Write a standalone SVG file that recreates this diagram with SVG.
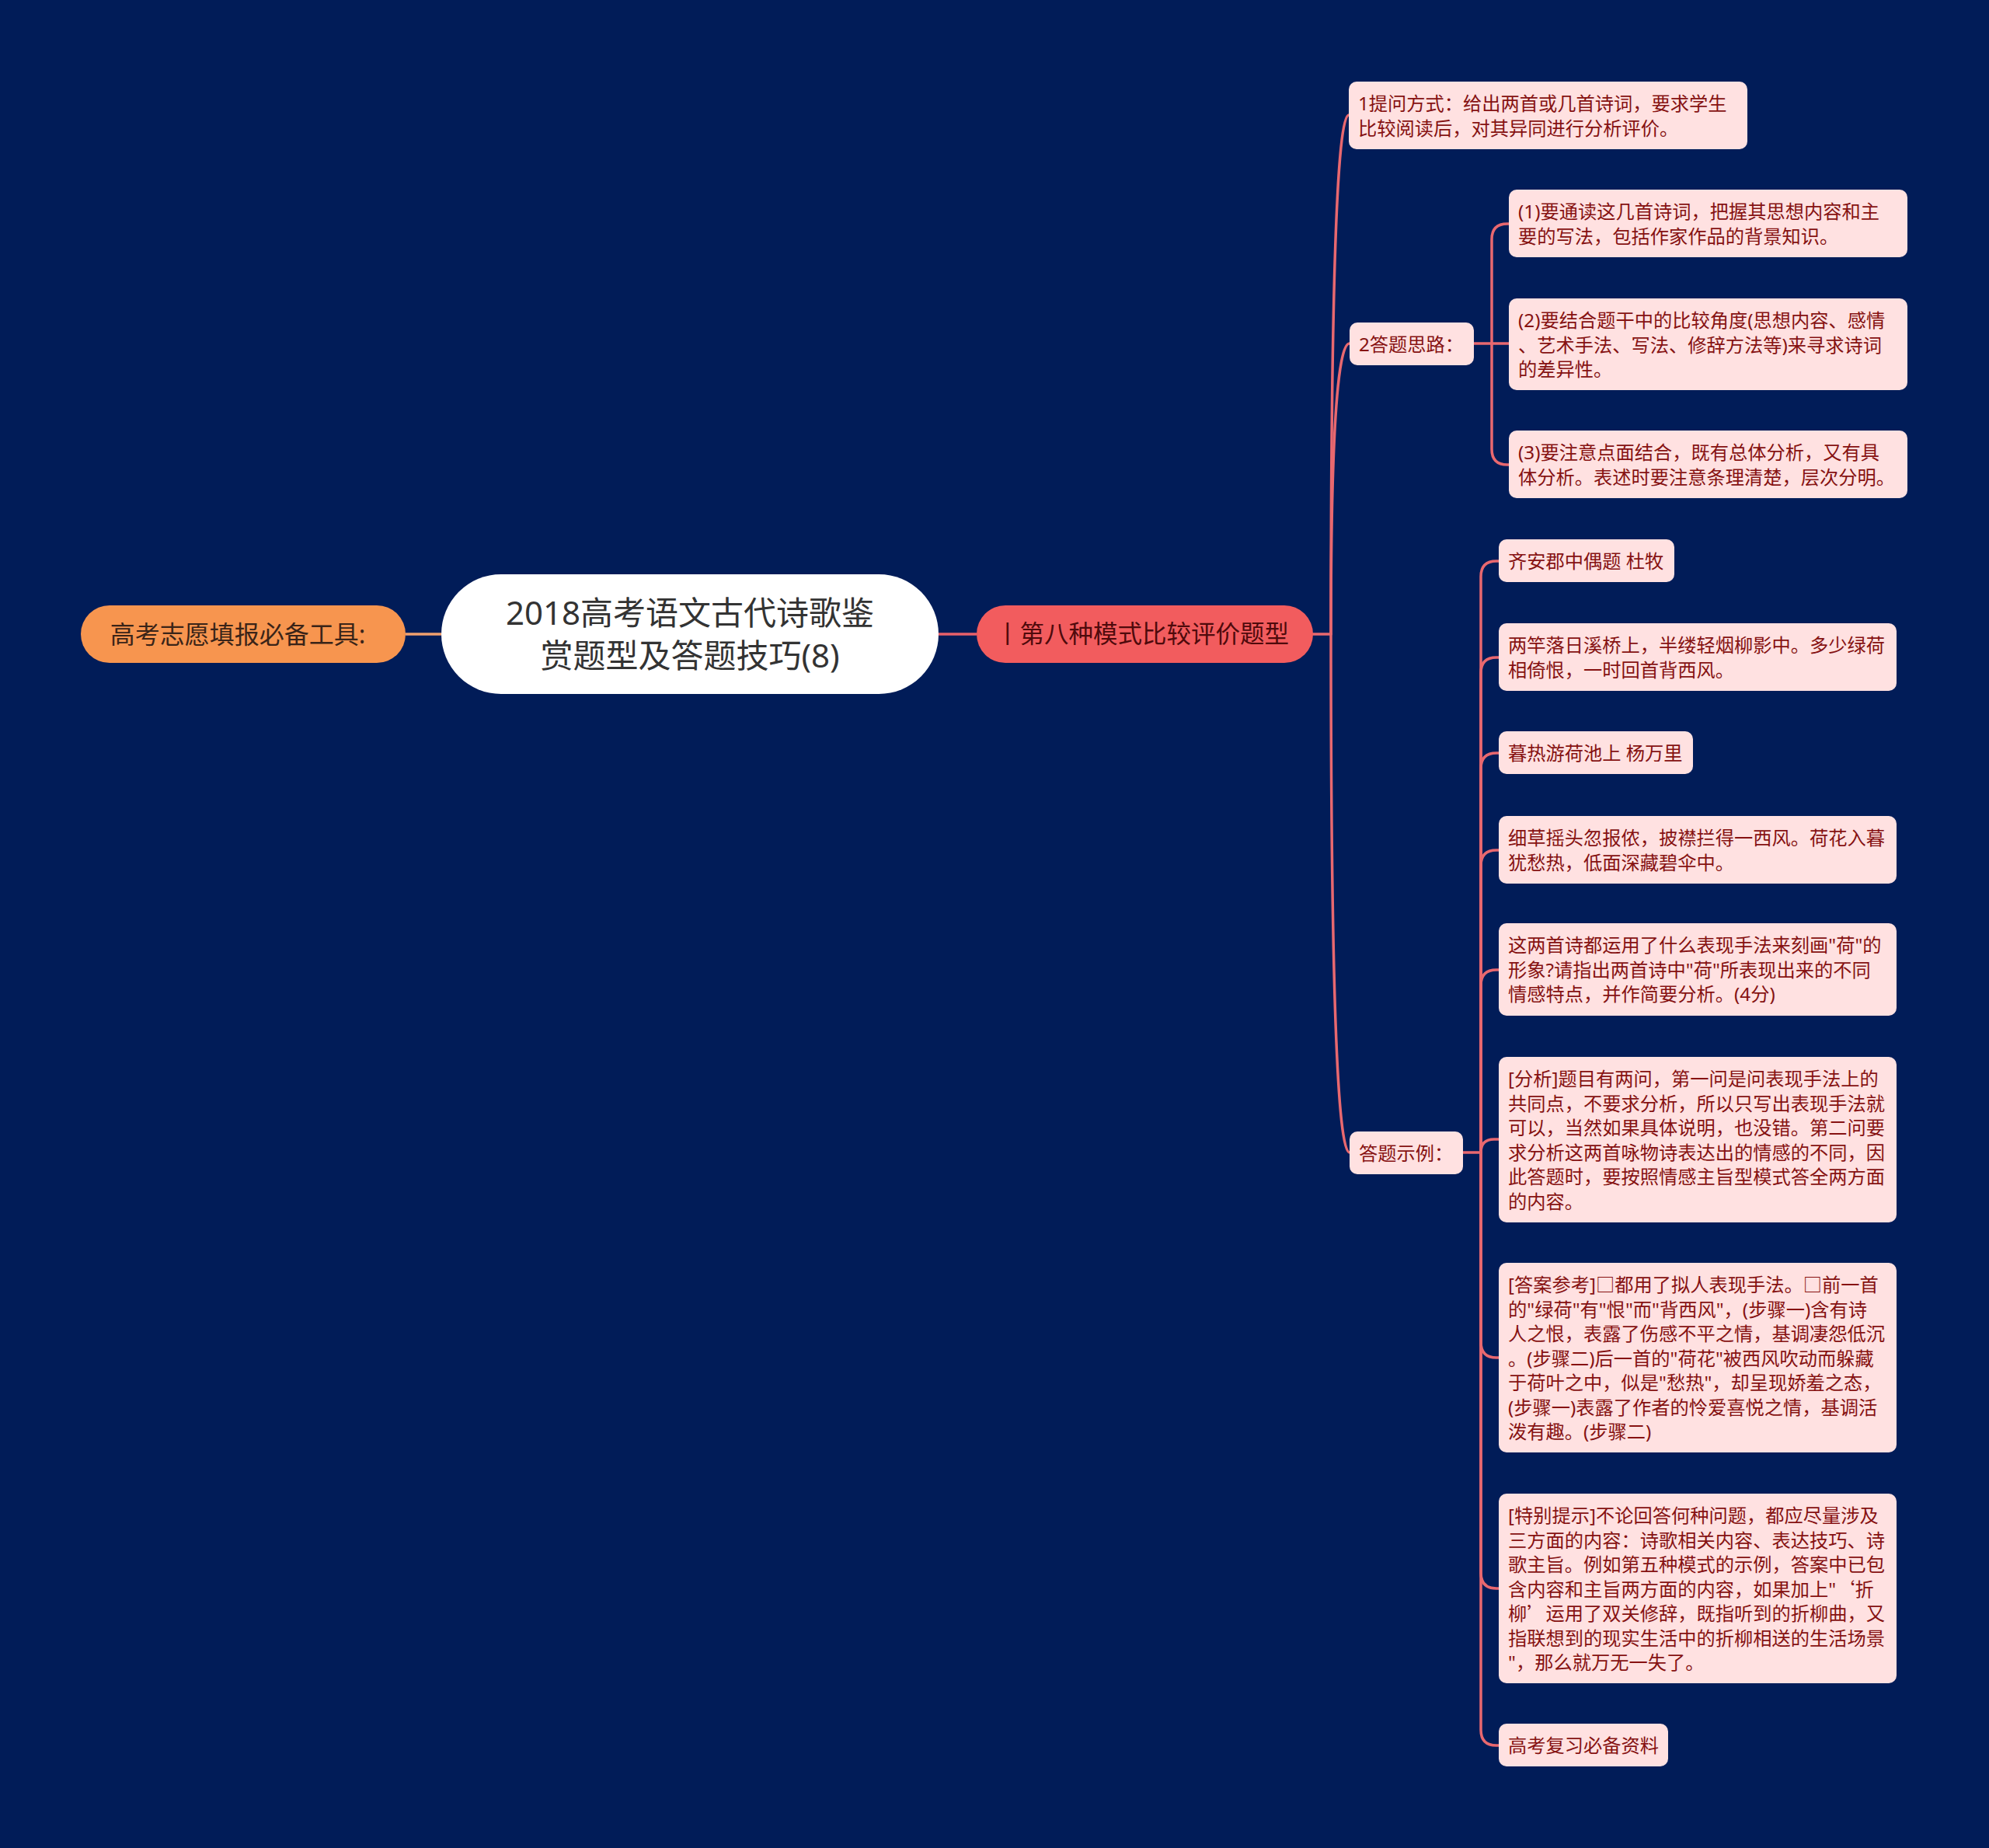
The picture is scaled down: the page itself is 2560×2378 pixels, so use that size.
<svg xmlns="http://www.w3.org/2000/svg" width="2560" height="2378" viewBox="0 0 2560 2378">
<style>
.bg{fill:#011c58}
.box{fill:#ffe1e1}
.t{font-family:"Noto Sans","Noto Sans CJK SC",sans-serif;font-size:24.25px;fill:#861212}
.cjk{font-family:"Noto Sans CJK SC",sans-serif}
.c{fill:none;stroke:#e8686f;stroke-width:3.5;stroke-linecap:round;stroke-linejoin:round}
</style>
<rect class="bg" x="0" y="0" width="2560" height="2378"/>
<g id="connectors">
<path d="M522 816 L568 816" fill="none" stroke="#f2a06e" stroke-width="3.5"/>
<path d="M1208 816 L1257 816" fill="none" stroke="#e8606a" stroke-width="3.5"/>
<path class="c" d="M1690 816 L1713 816 Q1713 148 1736 148"/>
<path class="c" d="M1713 816 Q1713 442 1737 442"/>
<path class="c" d="M1713 816 Q1713 1483 1737 1483"/>
<path class="c" d="M1897 442 L1942 442"/>
<path class="c" d="M1920 442 L1920 308 Q1920 288 1940 288 L1942 288"/>
<path class="c" d="M1920 442 L1920 578 Q1920 598 1940 598 L1942 598"/>
<path class="c" d="M1883 1483 L1906 1483"/>
<path class="c" d="M1906 1483 L1906 742 Q1906 722 1926 722 L1929 722"/>
<path class="c" d="M1906 1483 L1906 866 Q1906 846 1926 846 L1929 846"/>
<path class="c" d="M1906 1483 L1906 989 Q1906 969 1926 969 L1929 969"/>
<path class="c" d="M1906 1483 L1906 1114 Q1906 1094 1926 1094 L1929 1094"/>
<path class="c" d="M1906 1483 L1906 1268 Q1906 1248 1926 1248 L1929 1248"/>
<path class="c" d="M1906 1483 Q1906 1466 1923 1466 L1929 1466"/>
<path class="c" d="M1906 1483 L1906 1727 Q1906 1747 1926 1747 L1929 1747"/>
<path class="c" d="M1906 1483 L1906 2024 Q1906 2044 1926 2044 L1929 2044"/>
<path class="c" d="M1906 1483 L1906 2226 Q1906 2246 1926 2246 L1929 2246"/>
</g>
<g id="root">
<rect x="568" y="739" width="640" height="154" rx="77" fill="#ffffff"/>
<text x="888" y="804" text-anchor="middle" font-family="Noto Sans, Noto Sans CJK SC, sans-serif" font-size="42" fill="#333333">2018高考语文古代诗歌鉴</text>
<text x="888" y="859" text-anchor="middle" font-family="Noto Sans, Noto Sans CJK SC, sans-serif" font-size="42" fill="#333333">赏题型及答题技巧(8)</text>
</g>
<g id="left-node">
<rect x="104" y="779" width="418" height="74" rx="37" fill="#f7954f"/>
<text x="306" y="828" text-anchor="middle" font-family="Noto Sans, Noto Sans CJK SC, sans-serif" font-size="32" fill="#3a2418">高考志愿填报必备工具:</text>
</g>
<g id="main-node">
<rect x="1257" y="779" width="433" height="74" rx="37" fill="#f25c5e"/>
<text x="1470" y="827" text-anchor="middle" font-family="Noto Sans, Noto Sans CJK SC, sans-serif" font-size="31.5" fill="#4f0a0c">丨第八种模式比较评价题型</text>
</g>
<g id="n1">
<rect class="box" x="1736" y="105" width="513" height="87" rx="10"/>
<text class="t" x="1748" y="142"><tspan x="1748">1提问方式：给出两首或几首诗词，要求学生</tspan><tspan x="1748" dy="31.5">比较阅读后，对其异同进行分析评价。</tspan></text>
</g>
<g id="n2">
<rect class="box" x="1737" y="415" width="160" height="55" rx="10"/>
<text class="t" x="1749" y="452">2答题思路：</text>
</g>
<g id="n2-1">
<rect class="box" x="1942" y="244" width="513" height="87" rx="10"/>
<text class="t" x="1954" y="281"><tspan x="1954">(1)要通读这几首诗词，把握其思想内容和主</tspan><tspan x="1954" dy="31.5">要的写法，包括作家作品的背景知识。</tspan></text>
</g>
<g id="n2-2">
<rect class="box" x="1942" y="384" width="513" height="118" rx="10"/>
<text class="t" x="1954" y="421"><tspan x="1954">(2)要结合题干中的比较角度(思想内容、感情</tspan><tspan x="1954" dy="31.5">、艺术手法、写法、修辞方法等)来寻求诗词</tspan><tspan x="1954" dy="31.5">的差异性。</tspan></text>
</g>
<g id="n2-3">
<rect class="box" x="1942" y="554" width="513" height="87" rx="10"/>
<text class="t" x="1954" y="591"><tspan x="1954">(3)要注意点面结合，既有总体分析，又有具</tspan><tspan x="1954" dy="31.5">体分析。表述时要注意条理清楚，层次分明。</tspan></text>
</g>
<g id="n3">
<rect class="box" x="1737" y="1456" width="146" height="55" rx="10"/>
<text class="t" x="1749" y="1493">答题示例：</text>
</g>
<g id="n3-1">
<rect class="box" x="1929" y="694" width="226" height="55" rx="10"/>
<text class="t" x="1941" y="731">齐安郡中偶题 杜牧</text>
</g>
<g id="n3-2">
<rect class="box" x="1929" y="802" width="512" height="87" rx="10"/>
<text class="t" x="1941" y="839"><tspan x="1941">两竿落日溪桥上，半缕轻烟柳影中。多少绿荷</tspan><tspan x="1941" dy="31.5">相倚恨，一时回首背西风。</tspan></text>
</g>
<g id="n3-3">
<rect class="box" x="1929" y="941" width="250" height="55" rx="10"/>
<text class="t" x="1941" y="978">暮热游荷池上 杨万里</text>
</g>
<g id="n3-4">
<rect class="box" x="1929" y="1050" width="512" height="87" rx="10"/>
<text class="t" x="1941" y="1087"><tspan x="1941">细草摇头忽报侬，披襟拦得一西风。荷花入暮</tspan><tspan x="1941" dy="31.5">犹愁热，低面深藏碧伞中。</tspan></text>
</g>
<g id="n3-5">
<rect class="box" x="1929" y="1188" width="512" height="119" rx="10"/>
<text class="t" x="1941" y="1225"><tspan x="1941">这两首诗都运用了什么表现手法来刻画"荷"的</tspan><tspan x="1941" dy="31.5">形象?请指出两首诗中"荷"所表现出来的不同</tspan><tspan x="1941" dy="31.5">情感特点，并作简要分析。(4分)</tspan></text>
</g>
<g id="n3-6">
<rect class="box" x="1929" y="1360" width="512" height="213" rx="10"/>
<text class="t" x="1941" y="1397"><tspan x="1941">[分析]题目有两问，第一问是问表现手法上的</tspan><tspan x="1941" dy="31.5">共同点，不要求分析，所以只写出表现手法就</tspan><tspan x="1941" dy="31.5">可以，当然如果具体说明，也没错。第二问要</tspan><tspan x="1941" dy="31.5">求分析这两首咏物诗表达出的情感的不同，因</tspan><tspan x="1941" dy="31.5">此答题时，要按照情感主旨型模式答全两方面</tspan><tspan x="1941" dy="31.5">的内容。</tspan></text>
</g>
<g id="n3-7">
<rect class="box" x="1929" y="1625" width="512" height="244" rx="10"/>
<text class="t" x="1941" y="1662"><tspan x="1941">[答案参考]□都用了拟人表现手法。□前一首</tspan><tspan x="1941" dy="31.5">的"绿荷"有"恨"而"背西风"，(步骤一)含有诗</tspan><tspan x="1941" dy="31.5">人之恨，表露了伤感不平之情，基调凄怨低沉</tspan><tspan x="1941" dy="31.5">。(步骤二)后一首的"荷花"被西风吹动而躲藏</tspan><tspan x="1941" dy="31.5">于荷叶之中，似是"愁热"，却呈现娇羞之态，</tspan><tspan x="1941" dy="31.5">(步骤一)表露了作者的怜爱喜悦之情，基调活</tspan><tspan x="1941" dy="31.5">泼有趣。(步骤二)</tspan></text>
</g>
<g id="n3-8">
<rect class="box" x="1929" y="1922" width="512" height="244" rx="10"/>
<text class="t" x="1941" y="1959"><tspan x="1941">[特别提示]不论回答何种问题，都应尽量涉及</tspan><tspan x="1941" dy="31.5">三方面的内容：诗歌相关内容、表达技巧、诗</tspan><tspan x="1941" dy="31.5">歌主旨。例如第五种模式的示例，答案中已包</tspan><tspan x="1941" dy="31.5">含内容和主旨两方面的内容，如果加上"<tspan class="cjk">‘</tspan>折</tspan><tspan x="1941" dy="31.5">柳<tspan class="cjk">’</tspan>运用了双关修辞，既指听到的折柳曲，又</tspan><tspan x="1941" dy="31.5">指联想到的现实生活中的折柳相送的生活场景</tspan><tspan x="1941" dy="31.5">"，那么就万无一失了。</tspan></text>
</g>
<g id="n3-9">
<rect class="box" x="1929" y="2218" width="218" height="55" rx="10"/>
<text class="t" x="1941" y="2255">高考复习必备资料</text>
</g>
</svg>
